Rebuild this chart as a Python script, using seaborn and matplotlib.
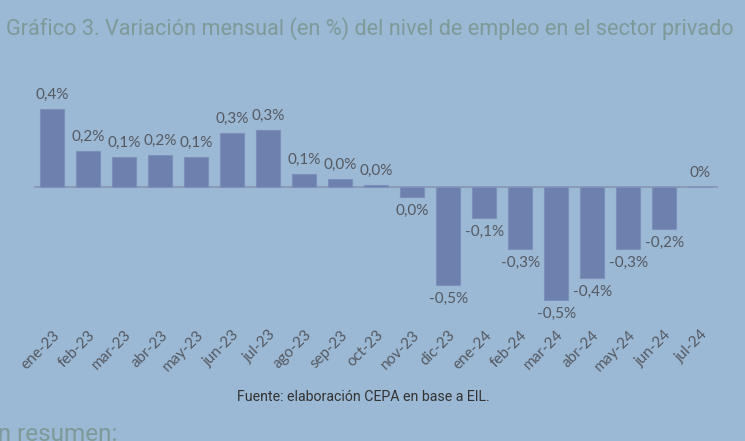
import matplotlib

matplotlib.use("Agg")
import matplotlib.pyplot as plt
import pandas as pd
import seaborn as sns

# Monthly change in private-sector employment (%)
months = [
    "ene-23", "feb-23", "mar-23", "abr-23", "may-23", "jun-23", "jul-23",
    "ago-23", "sep-23", "oct-23", "nov-23", "dic-23", "ene-24", "feb-24",
    "mar-24", "abr-24", "may-24", "jun-24", "jul-24",
]
variation = [
    0.368, 0.170, 0.142, 0.151, 0.142, 0.255, 0.269,
    0.061, 0.038, 0.009, -0.047, -0.462, -0.146, -0.292,
    -0.533, -0.429, -0.292, -0.198, 0.0,
]
value_labels = [
    "0,4%", "0,2%", "0,1%", "0,2%", "0,1%", "0,3%", "0,3%",
    "0,1%", "0,0%", "0,0%", "0,0%", "-0,5%", "-0,1%", "-0,3%",
    "-0,5%", "-0,4%", "-0,3%", "-0,2%", "0%",
]

BG = "#9bb8d4"
BAR = "#6e80ae"
TITLE_COLOR = "#7e9a98"
LABEL_COLOR = "#555a62"

df = pd.DataFrame({"mes": months, "variacion": variation})

sns.set_theme(style="white")
plt.rcParams["font.family"] = ["Lato", "DejaVu Sans"]

fig = plt.figure(figsize=(7.45, 4.41), dpi=100, facecolor=BG)
ax = fig.add_axes([0.046, 0.263, 0.918, 0.556], facecolor=BG)

sns.barplot(data=df, x="mes", y="variacion", color=BAR, width=0.667,
            saturation=1, edgecolor="#7d8fbb", linewidth=0.8, ax=ax)

ax.axhline(0, color="#8898b4", linewidth=1.3, zorder=0.5)
ax.set_ylim(-0.651, 0.505)
ax.set_xlim(-0.5, len(months) - 0.5)

for container in ax.containers:
    ax.bar_label(container, labels=value_labels, padding=5,
                 fontsize=11, color=LABEL_COLOR)

ax.set_xlabel("")
ax.set_ylabel("")
ax.set_yticks([])
ax.tick_params(axis="x", length=0, pad=2)
plt.setp(ax.get_xticklabels(), rotation=45, ha="right", va="top",
         rotation_mode="anchor", fontsize=11, color=LABEL_COLOR)
sns.despine(ax=ax, left=True, bottom=True)

fig.text(0.497, 0.935, "Gráfico 3. Variación mensual (en %) del nivel de empleo en el sector privado",
         ha="center", va="center", fontsize=15.6, color=TITLE_COLOR, family="Roboto")
fig.text(0.488, 0.10, "Fuente: elaboración CEPA en base a EIL.",
         ha="center", va="center", fontsize=10.2, color="#333333", family="Roboto")
fig.text(-0.022, -0.012, "En resumen:", ha="left", va="bottom",
         fontsize=17.5, color=TITLE_COLOR, family="Roboto")

fig.savefig("out.png", dpi=100, facecolor=BG)
